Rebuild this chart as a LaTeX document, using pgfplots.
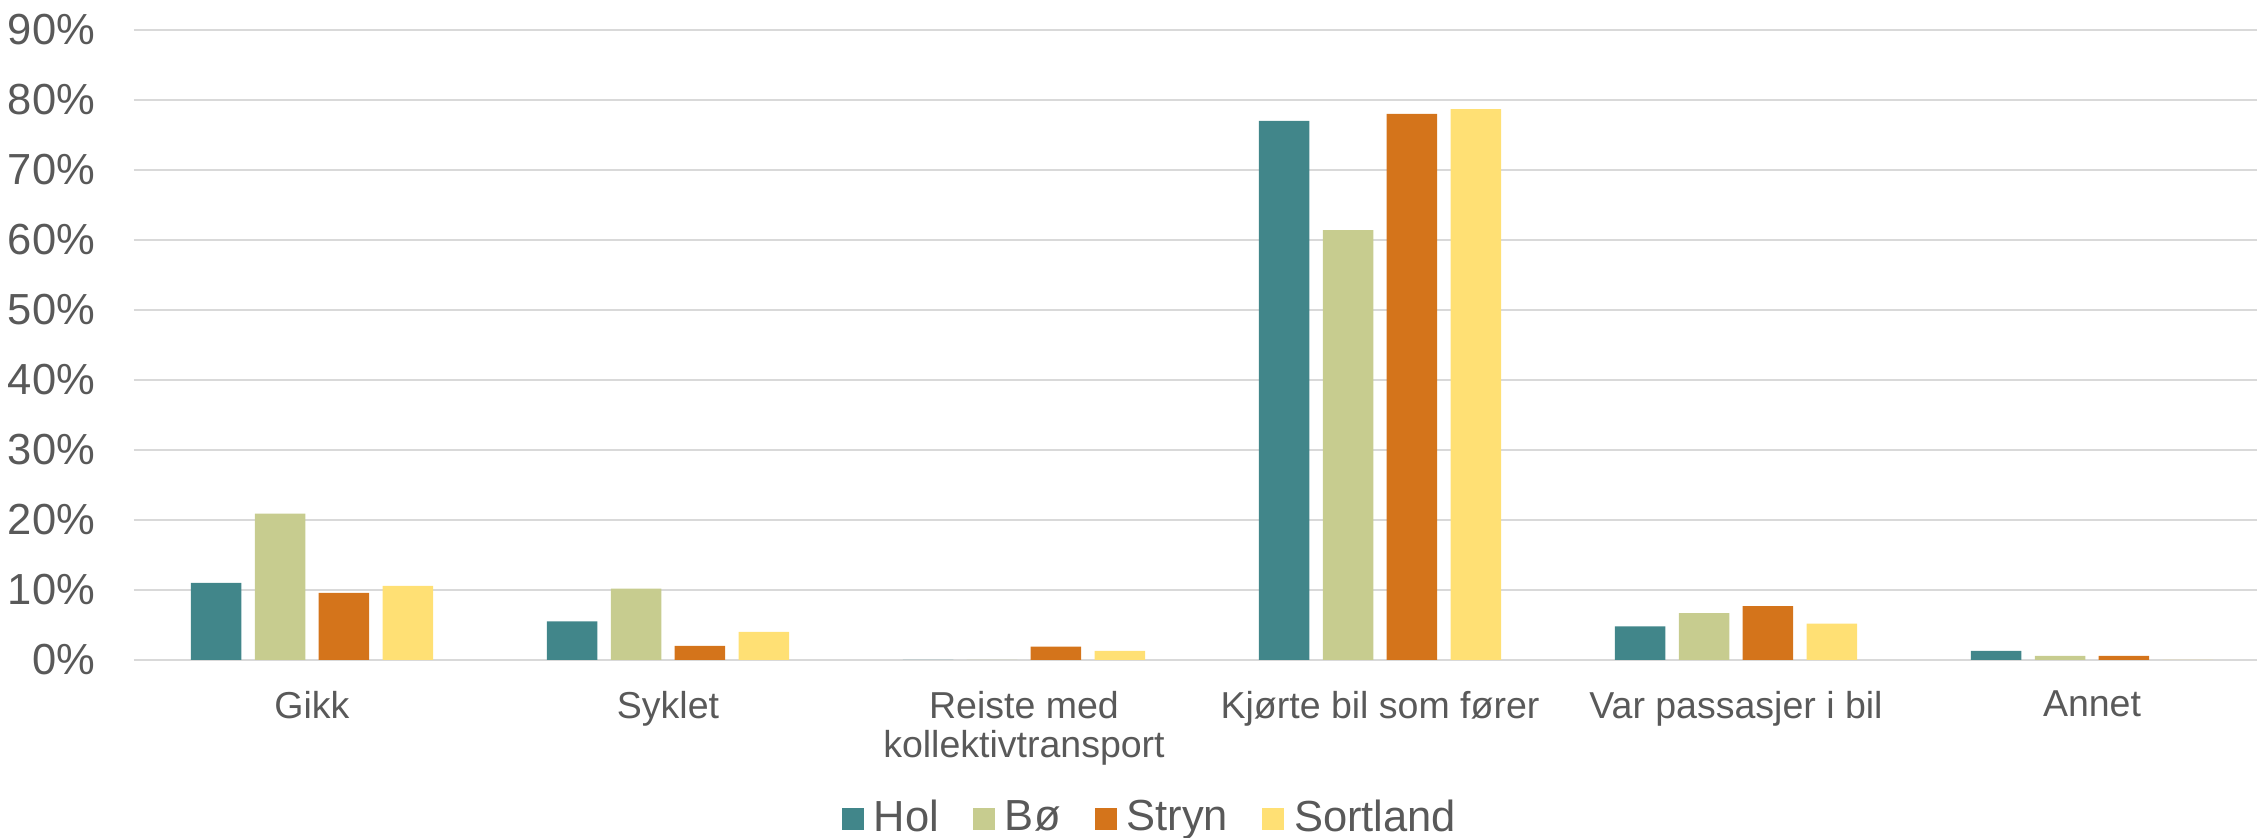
\documentclass[border=0pt]{standalone}
\usepackage{pgfplots}
\pgfplotsset{compat=1.18}
\usepackage{fontspec}
\setmainfont{Liberation Sans}
\definecolor{hol}{RGB}{65,134,138}
\definecolor{boe}{RGB}{199,204,143}
\definecolor{stryn}{RGB}{212,116,27}
\definecolor{sortland}{RGB}{255,224,116}
\definecolor{txt}{RGB}{89,89,89}
\definecolor{gridc}{RGB}{217,217,217}
\begin{document}
\begin{tikzpicture}
  \begin{axis}[
    scale only axis,
    width=427.2pt, height=126pt,
    ymin=0, ymax=90, xmin=-0.5, xmax=5.5,
    ybar=2.67pt, bar width=10.1pt,
    axis line style={draw=none},
    major tick length=0pt,
    ymajorgrids, grid style={draw=gridc, line width=0.45pt},
    ytick={0,10,...,90},
    yticklabels={0\%,10\%,20\%,30\%,40\%,50\%,60\%,70\%,80\%,90\%},
    yticklabel style={font=\fontsize{8.7}{10}\selectfont, text=txt, inner sep=0pt, xshift=-7.6pt},
    xtick={0,...,5},
    xticklabels={Gikk,Syklet,{Reiste med\\kollektivtransport},Kjørte bil som fører,Var passasjer i bil,Annet},
    xticklabel style={font=\fontsize{7.5}{7.9}\selectfont, text=txt, inner sep=0pt, anchor=north, yshift=-6pt, align=center},
    legend style={at={(0.4775,-0.2525)}, anchor=center, draw=none, fill=none,
      font=\fontsize{8.7}{10}\selectfont, text=txt, legend columns=-1,
      /tikz/every even column/.append style={column sep=4.8pt},
      inner sep=0pt},
    legend image code/.code={\fill[#1] (0.5pt,-2.2pt) rectangle (4.9pt,2.2pt);},
  ]
    \addplot[fill=hol, draw=none] coordinates {(0,11.0) (1,5.5) (2,0) (3,77.0) (4,4.8) (5,1.3)};
    \addlegendentry{Hol}
    \addplot[fill=boe, draw=none] coordinates {(0,20.9) (1,10.2) (2,0) (3,61.4) (4,6.7) (5,0.6)};
    \addlegendentry{Bø}
    \addplot[fill=stryn, draw=none] coordinates {(0,9.6) (1,2.0) (2,1.9) (3,78.0) (4,7.7) (5,0.6)};
    \addlegendentry{Stryn}
    \addplot[fill=sortland, draw=none] coordinates {(0,10.6) (1,4.0) (2,1.3) (3,78.7) (4,5.2) (5,0)};
    \addlegendentry{Sortland}
  \end{axis}
  \pgfresetboundingbox
  \useasboundingbox (-26.8pt,-35.6pt) rectangle (424.6pt,132pt);
\end{tikzpicture}
\end{document}
